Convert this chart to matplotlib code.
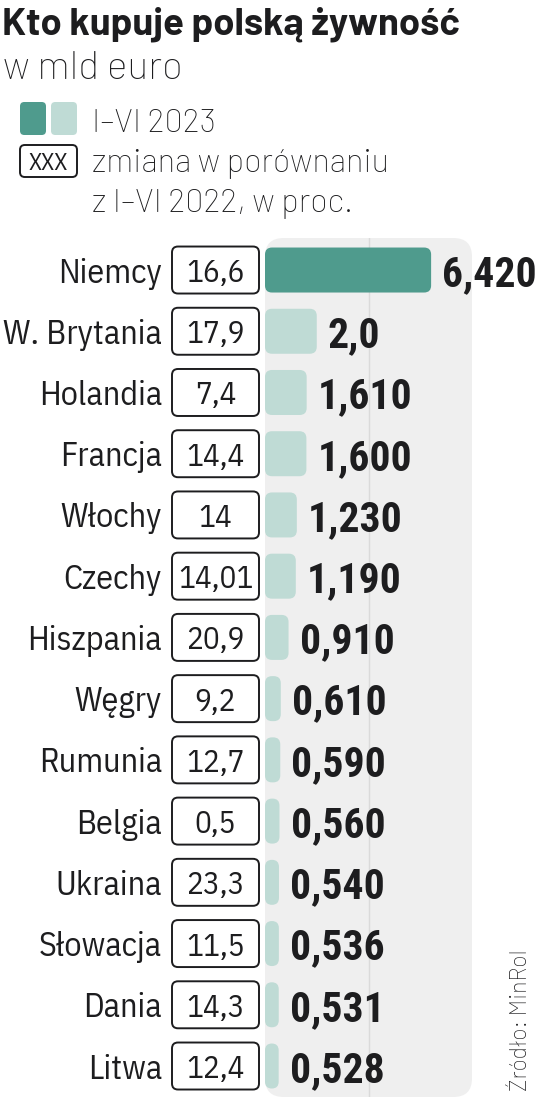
import matplotlib
matplotlib.use("Agg")
import matplotlib.pyplot as plt
from matplotlib.patches import FancyBboxPatch

# dane
countries = ["Niemcy", "W. Brytania", "Holandia", "Francja", "Włochy", "Czechy", "Hiszpania",
             "Węgry", "Rumunia", "Belgia", "Ukraina", "Słowacja", "Dania", "Litwa"]
values = [6.420, 2.0, 1.610, 1.600, 1.230, 1.190, 0.910, 0.610, 0.590, 0.560, 0.540, 0.536, 0.531, 0.528]
value_labels = ["6,420", "2,0", "1,610", "1,600", "1,230", "1,190", "0,910",
                "0,610", "0,590", "0,560", "0,540", "0,536", "0,531", "0,528"]
changes = ["16,6", "17,9", "7,4", "14,4", "14", "14,01", "20,9",
           "9,2", "12,7", "0,5", "23,3", "11,5", "14,3", "12,4"]

DARK = "#4f9b8d"
LIGHT = "#bfdbd5"
PANEL = "#efefef"
INK = "#1d1d1f"
COND = ["IBM Plex Sans Condensed", "DejaVu Sans"]
DIN = ["Barlow", "DejaVu Sans"]
NUM = ["Roboto Condensed", "DejaVu Sans"]

W, H = 536, 1100
fig = plt.figure(figsize=(W / 100, H / 100), dpi=100)

def fx(px):
    return px / W

def fy(py):
    return 1 - py / H

# naglowek
fig.text(fx(2), fy(35), "Kto kupuje polską żywność", family=DIN, weight="bold",
         fontsize=27.5, color=INK, va="baseline")
fig.text(fx(3), fy(79), "w mld euro", family=DIN, weight="light",
         fontsize=28, color=INK, va="baseline")

# legenda
sq_w, sq_h = 26 / W, 33 / H
for x0, c in [(20, DARK), (51, LIGHT)]:
    fig.patches.append(FancyBboxPatch((fx(x0), fy(135)), sq_w, sq_h,
                                      boxstyle="round,pad=0,rounding_size=0.008",
                                      mutation_aspect=W / H, transform=fig.transFigure,
                                      fc=c, ec="none"))
fig.patches.append(FancyBboxPatch((fx(20), fy(177)), 57 / W, 32 / H,
                                  boxstyle="round,pad=0,rounding_size=0.009",
                                  mutation_aspect=W / H, transform=fig.transFigure,
                                  fc="white", ec=INK, lw=1.4))
fig.text(fx(48.5), fy(161), "XXX", family=COND, fontsize=17, color=INK,
         ha="center", va="center_baseline")
fig.text(fx(92), fy(132), "I–VI 2023", family=DIN, weight="light",
         fontsize=23.4, color=INK, va="baseline")
fig.text(fx(92), fy(172), "zmiana w porównaniu", family=DIN, weight="light",
         fontsize=23.4, color=INK, va="baseline")
fig.text(fx(92), fy(212), "z I–VI 2022, w proc.", family=DIN, weight="light",
         fontsize=23.4, color=INK, va="baseline")

# wykres
ax = fig.add_axes([fx(265), fy(1097), 207 / W, (1097 - 238) / H])
ax.set_xlim(0, 8)
ax.set_ylim(13.506, -0.523)
ax.axis("off")

ax.add_patch(FancyBboxPatch((0, 0), 1, 1, boxstyle="round,pad=0,rounding_size=0.09",
                            mutation_aspect=207 / 859, transform=ax.transAxes,
                            fc=PANEL, ec="none", zorder=0))
ax.axvline(4, color="#dadada", lw=1, zorder=1)

px_x = 207 / 8       # px per unit x
px_y = 859 / 14.029  # px per unit y
asp = px_x / px_y
bar_h = 45 / px_y
box_l, box_r = (172 - 265) / px_x, (259 - 265) / px_x
box_h = 47 / px_y

for i, (c, v, lab, ch) in enumerate(zip(countries, values, value_labels, changes)):
    r = min(7 / px_x, v / 2)
    ax.add_patch(FancyBboxPatch((0, i - bar_h / 2), v, bar_h,
                                boxstyle=f"round,pad=0,rounding_size={r}",
                                mutation_aspect=asp, fc=DARK if i == 0 else LIGHT,
                                ec="none", zorder=2))
    ax.annotate(lab, (v, i), xytext=(8, 0), textcoords="offset points",
                family=NUM, weight="bold", fontsize=30, color=INK,
                ha="left", va="center_baseline", annotation_clip=False)
    ax.add_patch(FancyBboxPatch((box_l, i - box_h / 2), box_r - box_l, box_h,
                                boxstyle=f"round,pad=0,rounding_size={6 / px_x}",
                                mutation_aspect=asp, fc="white", ec=INK, lw=1.4,
                                clip_on=False, zorder=3))
    ax.text((box_l + box_r) / 2, i, ch, family=COND, fontsize=22.5, color=INK,
            ha="center", va="center_baseline", clip_on=False, zorder=4)
    ax.text((162 - 265) / px_x, i, c, family=COND, fontsize=24.5, color=INK,
            ha="right", va="center_baseline", clip_on=False)

fig.text(fx(521), fy(1091), "Źródło: MinRol", family=DIN, weight="light",
         fontsize=16.5, color=INK, rotation=90, ha="center", va="bottom")

fig.savefig("out.png", dpi=100)
